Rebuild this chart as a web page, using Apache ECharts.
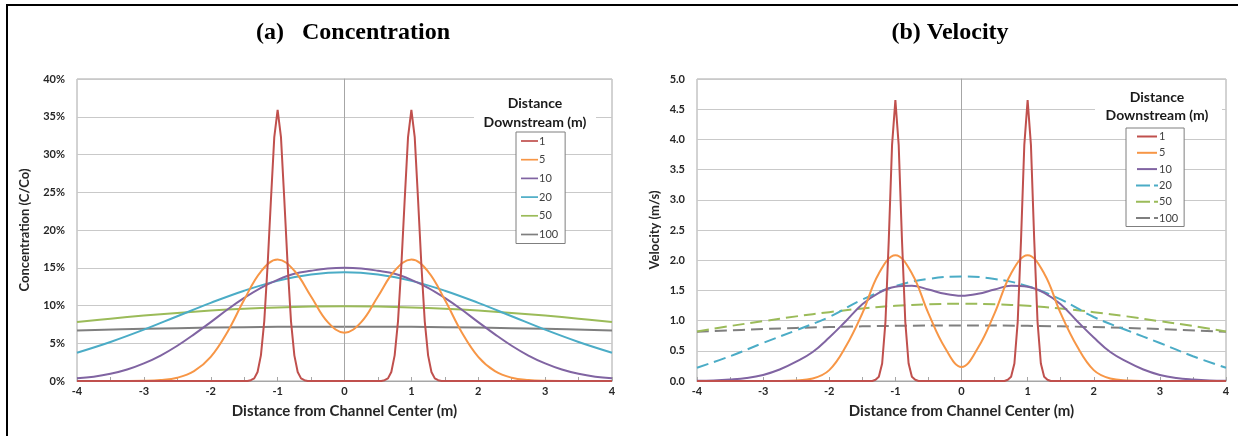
<!DOCTYPE html>
<html><head><meta charset="utf-8">
<script src="https://cdn.jsdelivr.net/npm/echarts@6/dist/echarts.min.js"></script>
<style>html,body{margin:0;padding:0;background:#fff}#c{width:1238px;height:436px}</style>
</head><body><div id="c"></div>
<script>
// ---------- data ----------
const seriesNames = ['1','5','10','20','50','100'];
const colors = ['#C0504D','#F79646','#8064A2','#4BACC6','#9BBB59','#7F7F7F'];

// Concentration (%) vs distance from channel center (m)
const conc1X = [-4,-1.45,-1.4,-1.35,-1.3,-1.25,-1.2,-1.15,-1.1,-1.05,-1,-0.95,-0.9,-0.85,-0.8,-0.75,-0.7,-0.65,-0.6,-0.55,0,0.55,0.6,0.65,0.7,0.75,0.8,0.85,0.9,0.95,1,1.05,1.1,1.15,1.2,1.25,1.3,1.35,1.4,1.45,4];
const conc1Y = [0,0,0.1,0.35,1.2,3.4,7.9,15.3,24.0,32.3,35.9,32.3,24.0,15.3,7.9,3.4,1.2,0.35,0.1,0,0,0,0.1,0.35,1.2,3.4,7.9,15.3,24.0,32.3,35.9,32.3,24.0,15.3,7.9,3.4,1.2,0.35,0.1,0,0];
const conc5X = [-4,-3.5,-3,-2.75,-2.5,-2.25,-2,-1.75,-1.5,-1.25,-1,-0.75,-0.5,-0.25,0,0.25,0.5,0.75,1,1.25,1.5,1.75,2,2.25,2.5,2.75,3,3.5,4];
const conc5Y = [0,0,0.03,0.12,0.43,1.3,3.2,6.5,10.75,14.5,16.1,14.6,11.2,7.8,6.4,7.8,11.2,14.6,16.1,14.5,10.75,6.5,3.2,1.3,0.43,0.12,0.03,0,0];
const conc10X = [-4,-3.75,-3.5,-3.25,-3,-2.75,-2.5,-2.25,-2,-1.75,-1.5,-1.25,-1,-0.75,-0.5,-0.25,0,0.25,0.5,0.75,1,1.25,1.5,1.75,2,2.25,2.5,2.75,3,3.25,3.5,3.75,4];
const conc10Y = [0.35,0.57,0.95,1.52,2.33,3.37,4.67,6.18,7.8,9.47,11.0,12.35,13.4,14.2,14.6,14.9,15.0,14.9,14.6,14.2,13.4,12.35,11.0,9.47,7.8,6.18,4.67,3.37,2.33,1.52,0.95,0.57,0.35];
const conc20X = [-4,-3.5,-3,-2.5,-2,-1.5,-1,-0.5,0,0.5,1,1.5,2,2.5,3,3.5,4];
const conc20Y = [3.75,5.17,6.8,8.58,10.35,11.96,13.26,14.1,14.4,14.1,13.26,11.96,10.35,8.58,6.8,5.17,3.75];
const conc50X = [-4,-3.5,-3,-2.5,-2,-1.5,-1,-0.5,0,0.5,1,1.5,2,2.5,3,3.5,4];
const conc50Y = [7.8,8.26,8.66,9.02,9.33,9.57,9.75,9.86,9.9,9.86,9.75,9.57,9.33,9.02,8.66,8.26,7.8];
const conc100X = [-4,-3,-2,-1,0,1,2,3,4];
const conc100Y = [6.7,6.91,7.07,7.17,7.2,7.17,7.07,6.91,6.7];

// Velocity (m/s) vs distance from channel center (m)
const vel1X = [-4,-1.35,-1.3,-1.25,-1.2,-1.15,-1.1,-1.05,-1,-0.95,-0.9,-0.85,-0.8,-0.75,-0.7,-0.65,0,0.65,0.7,0.75,0.8,0.85,0.9,0.95,1,1.05,1.1,1.15,1.2,1.25,1.3,1.35,4];
const vel1Y = [0,0,0.02,0.07,0.29,0.98,2.33,3.91,4.65,3.91,2.33,0.98,0.29,0.07,0.02,0,0,0,0.02,0.07,0.29,0.98,2.33,3.91,4.65,3.91,2.33,0.98,0.29,0.07,0.02,0,0];
const vel5X = [-4,-3,-2.5,-2.25,-2,-1.75,-1.5,-1.25,-1,-0.75,-0.5,-0.25,0,0.25,0.5,0.75,1,1.25,1.5,1.75,2,2.25,2.5,3,4];
const vel5Y = [0,0,0.01,0.04,0.18,0.57,1.12,1.78,2.08,1.78,1.12,0.55,0.23,0.55,1.12,1.78,2.08,1.78,1.12,0.57,0.18,0.04,0.01,0,0];
const vel10X = [-4,-3.75,-3.5,-3.25,-3,-2.75,-2.5,-2.25,-2,-1.75,-1.5,-1.25,-1,-0.75,-0.5,-0.25,0,0.25,0.5,0.75,1,1.25,1.5,1.75,2,2.25,2.5,2.75,3,3.25,3.5,3.75,4];
const vel10Y = [0.005,0.01,0.025,0.05,0.1,0.19,0.32,0.48,0.72,0.99,1.27,1.46,1.56,1.575,1.515,1.443,1.41,1.443,1.515,1.575,1.56,1.46,1.27,0.99,0.72,0.48,0.32,0.19,0.1,0.05,0.025,0.01,0.005];
const vel20X = [-4,-3.5,-3,-2.5,-2,-1.5,-1,-0.5,0,0.5,1,1.5,2,2.5,3,3.5,4];
const vel20Y = [0.22,0.41,0.63,0.84,1.06,1.35,1.57,1.69,1.73,1.69,1.57,1.35,1.06,0.84,0.63,0.41,0.22];
const vel50X = [-4,-3.5,-3,-2.5,-2,-1.5,-1,-0.5,0,0.5,1,1.5,2,2.5,3,3.5,4];
const vel50Y = [0.82,0.91,0.99,1.07,1.14,1.2,1.245,1.27,1.28,1.27,1.245,1.2,1.14,1.07,0.99,0.91,0.82];
const vel100X = [-4,-3,-2,-1,0,1,2,3,4];
const vel100Y = [0.815,0.86,0.893,0.913,0.92,0.913,0.893,0.86,0.815];

const concX = [conc1X,conc5X,conc10X,conc20X,conc50X,conc100X];
const concY = [conc1Y,conc5Y,conc10Y,conc20Y,conc50Y,conc100Y];
const velX = [vel1X,vel5X,vel10X,vel20X,vel50X,vel100X];
const velY = [vel1Y,vel5Y,vel10Y,vel20Y,vel50Y,vel100Y];

const titleA = '(a)   Concentration';
const titleB = '(b) Velocity';
const legendTitle = 'Distance\nDownstream (m)';
const xName = 'Distance from Channel Center (m)';
const yNameA = 'Concentration (C/Co)';
const yNameB = 'Velocity (m/s)';

// ---------- chart ----------
const zip = (xs, ys) => xs.map((x, i) => [x, ys[i]]);
const FONT = 'Lato, "Open Sans", sans-serif';
const GRIDC = '#c9c9c9';
const AXC = '#a6a6a6';
const SOLID_ICON = 'path://M0,0h20v2h-20z';
const DASH_ICON = 'path://M0,0h14v2h-14zM18,0h4v2h-4z';

function xAxisCfg(gi) {
  return {
    type: 'value', gridIndex: gi, min: -4, max: 4, interval: 1,
    name: xName, nameLocation: 'middle', nameGap: 23,
    nameTextStyle: {fontFamily: FONT, fontWeight: 'bold', fontSize: 15, color: '#262626'},
    axisLine: {show: true, onZero: false, lineStyle: {color: AXC}},
    axisTick: {show: true, inside: true, length: 4, lineStyle: {color: AXC}},
    minorTick: {show: true, splitNumber: 2, length: 4, lineStyle: {color: AXC}},
    splitLine: {show: false},
    axisLabel: {fontFamily: FONT, fontWeight: 'bold', fontSize: 11, color: '#262626', margin: 5}
  };
}
function yAxisCfg(gi, max, interval, fmt, name, gap) {
  return {
    type: 'value', gridIndex: gi, min: 0, max: max, interval: interval,
    name: name, nameLocation: 'middle', nameGap: gap,
    nameTextStyle: {fontFamily: FONT, fontWeight: 'bold', fontSize: 13, color: '#262626'},
    axisLine: {show: true, lineStyle: {color: AXC}},
    axisTick: {show: false},
    splitLine: {show: true, lineStyle: {color: GRIDC, width: 1}},
    axisLabel: {fontFamily: FONT, fontWeight: 'bold', fontSize: 11, color: '#262626', margin: 12, formatter: fmt}
  };
}

const series = [];
seriesNames.forEach((n, i) => {
  series.push({
    name: 'C' + n, type: 'line', xAxisIndex: 0, yAxisIndex: 0,
    data: zip(concX[i], concY[i]), showSymbol: false, symbol: 'none',
    smooth: i === 0 ? false : 0.4, lineStyle: {color: colors[i], width: 2}, itemStyle: {color: colors[i]},
    z: 3 + (6 - i), animation: false,
    markLine: i === 0 ? {silent: true, symbol: 'none', label: {show: false},
      lineStyle: {color: AXC, type: 'solid', width: 1}, data: [{xAxis: 0}], animation: false} : undefined
  });
});
seriesNames.forEach((n, i) => {
  series.push({
    name: 'V' + n, type: 'line', xAxisIndex: 1, yAxisIndex: 1,
    data: zip(velX[i], velY[i]), showSymbol: false, symbol: 'none',
    smooth: i === 0 ? false : 0.4,
    lineStyle: {color: colors[i], width: 2, type: i >= 3 ? [12, 6] : 'solid'}, itemStyle: {color: colors[i]},
    z: 3 + (6 - i), animation: false,
    markLine: i === 0 ? {silent: true, symbol: 'none', label: {show: false},
      lineStyle: {color: AXC, type: 'solid', width: 1}, data: [{xAxis: 0}], animation: false} : undefined
  });
});

function legendCfg(prefix, left, top, iw, lh, gap, pad, dashed) {
  return {
    show: true, orient: 'vertical', left: left, top: top,
    data: seriesNames.map((n, i) => ({name: prefix + n, icon: (dashed && i >= 3) ? DASH_ICON : SOLID_ICON})),
    formatter: s => s.slice(1),
    itemWidth: iw, itemHeight: 2, itemGap: gap, padding: pad,
    borderColor: '#7f7f7f', borderWidth: 1, backgroundColor: '#ffffff',
    textStyle: {fontFamily: FONT, fontSize: 11, color: '#404040', lineHeight: lh, padding: [0,0,0,-4]},
    selectedMode: false, z: 20
  };
}

const chart = echarts.init(document.getElementById('c'), null, {renderer: 'canvas'});
chart.setOption({
  backgroundColor: '#ffffff',
  animation: false,
  grid: [
    {left: 77, top: 79, width: 535, height: 302, show: true, borderColor: AXC, borderWidth: 1, backgroundColor: 'transparent'},
    {left: 697, top: 79, width: 529, height: 302, show: true, borderColor: AXC, borderWidth: 1, backgroundColor: 'transparent'}
  ],
  xAxis: [xAxisCfg(0), xAxisCfg(1)],
  yAxis: [
    yAxisCfg(0, 40, 5, '{value}%', yNameA, 46),
    yAxisCfg(1, 5, 0.5, v => v.toFixed(1), yNameB, 36)
  ],
  legend: [
    legendCfg('C', 516, 132, 17, 12, 6.7, [3, 7, 3, 5], false),
    legendCfg('V', 1126, 128, 22, 11, 5.3, [3, 6, 3, 10], true)
  ],
  series: series,
  graphic: [
    {type: 'rect', z: 100, shape: {x: 6, y: 4, width: 1232, height: 2}, style: {fill: '#000'}},
    {type: 'rect', z: 100, shape: {x: 6, y: 4, width: 2, height: 432}, style: {fill: '#000'}},
    {type: 'text', z: 100, style: {text: titleA, x: 353, y: 33, textAlign: 'center', textVerticalAlign: 'middle',
      font: 'bold 24px "Liberation Serif", "Times New Roman", serif', fill: '#000'}},
    {type: 'text', z: 100, style: {text: titleB, x: 950, y: 33, textAlign: 'center', textVerticalAlign: 'middle',
      font: 'bold 24px "Liberation Serif", "Times New Roman", serif', fill: '#000'}},
    {type: 'rect', z: 15, shape: {x: 474, y: 92, width: 122, height: 38}, style: {fill: '#fff'}},
    {type: 'text', z: 16, style: {text: legendTitle, x: 535, y: 113, textAlign: 'center', textVerticalAlign: 'middle',
      font: 'bold 14px Lato, "Open Sans", sans-serif', lineHeight: 19, fill: '#1a1a1a'}},
    {type: 'rect', z: 15, shape: {x: 1095, y: 88, width: 127, height: 36}, style: {fill: '#fff'}},
    {type: 'text', z: 16, style: {text: legendTitle, x: 1157, y: 106, textAlign: 'center', textVerticalAlign: 'middle',
      font: 'bold 14px Lato, "Open Sans", sans-serif', lineHeight: 18, fill: '#1a1a1a'}}
  ]
});
</script>
</body></html>
